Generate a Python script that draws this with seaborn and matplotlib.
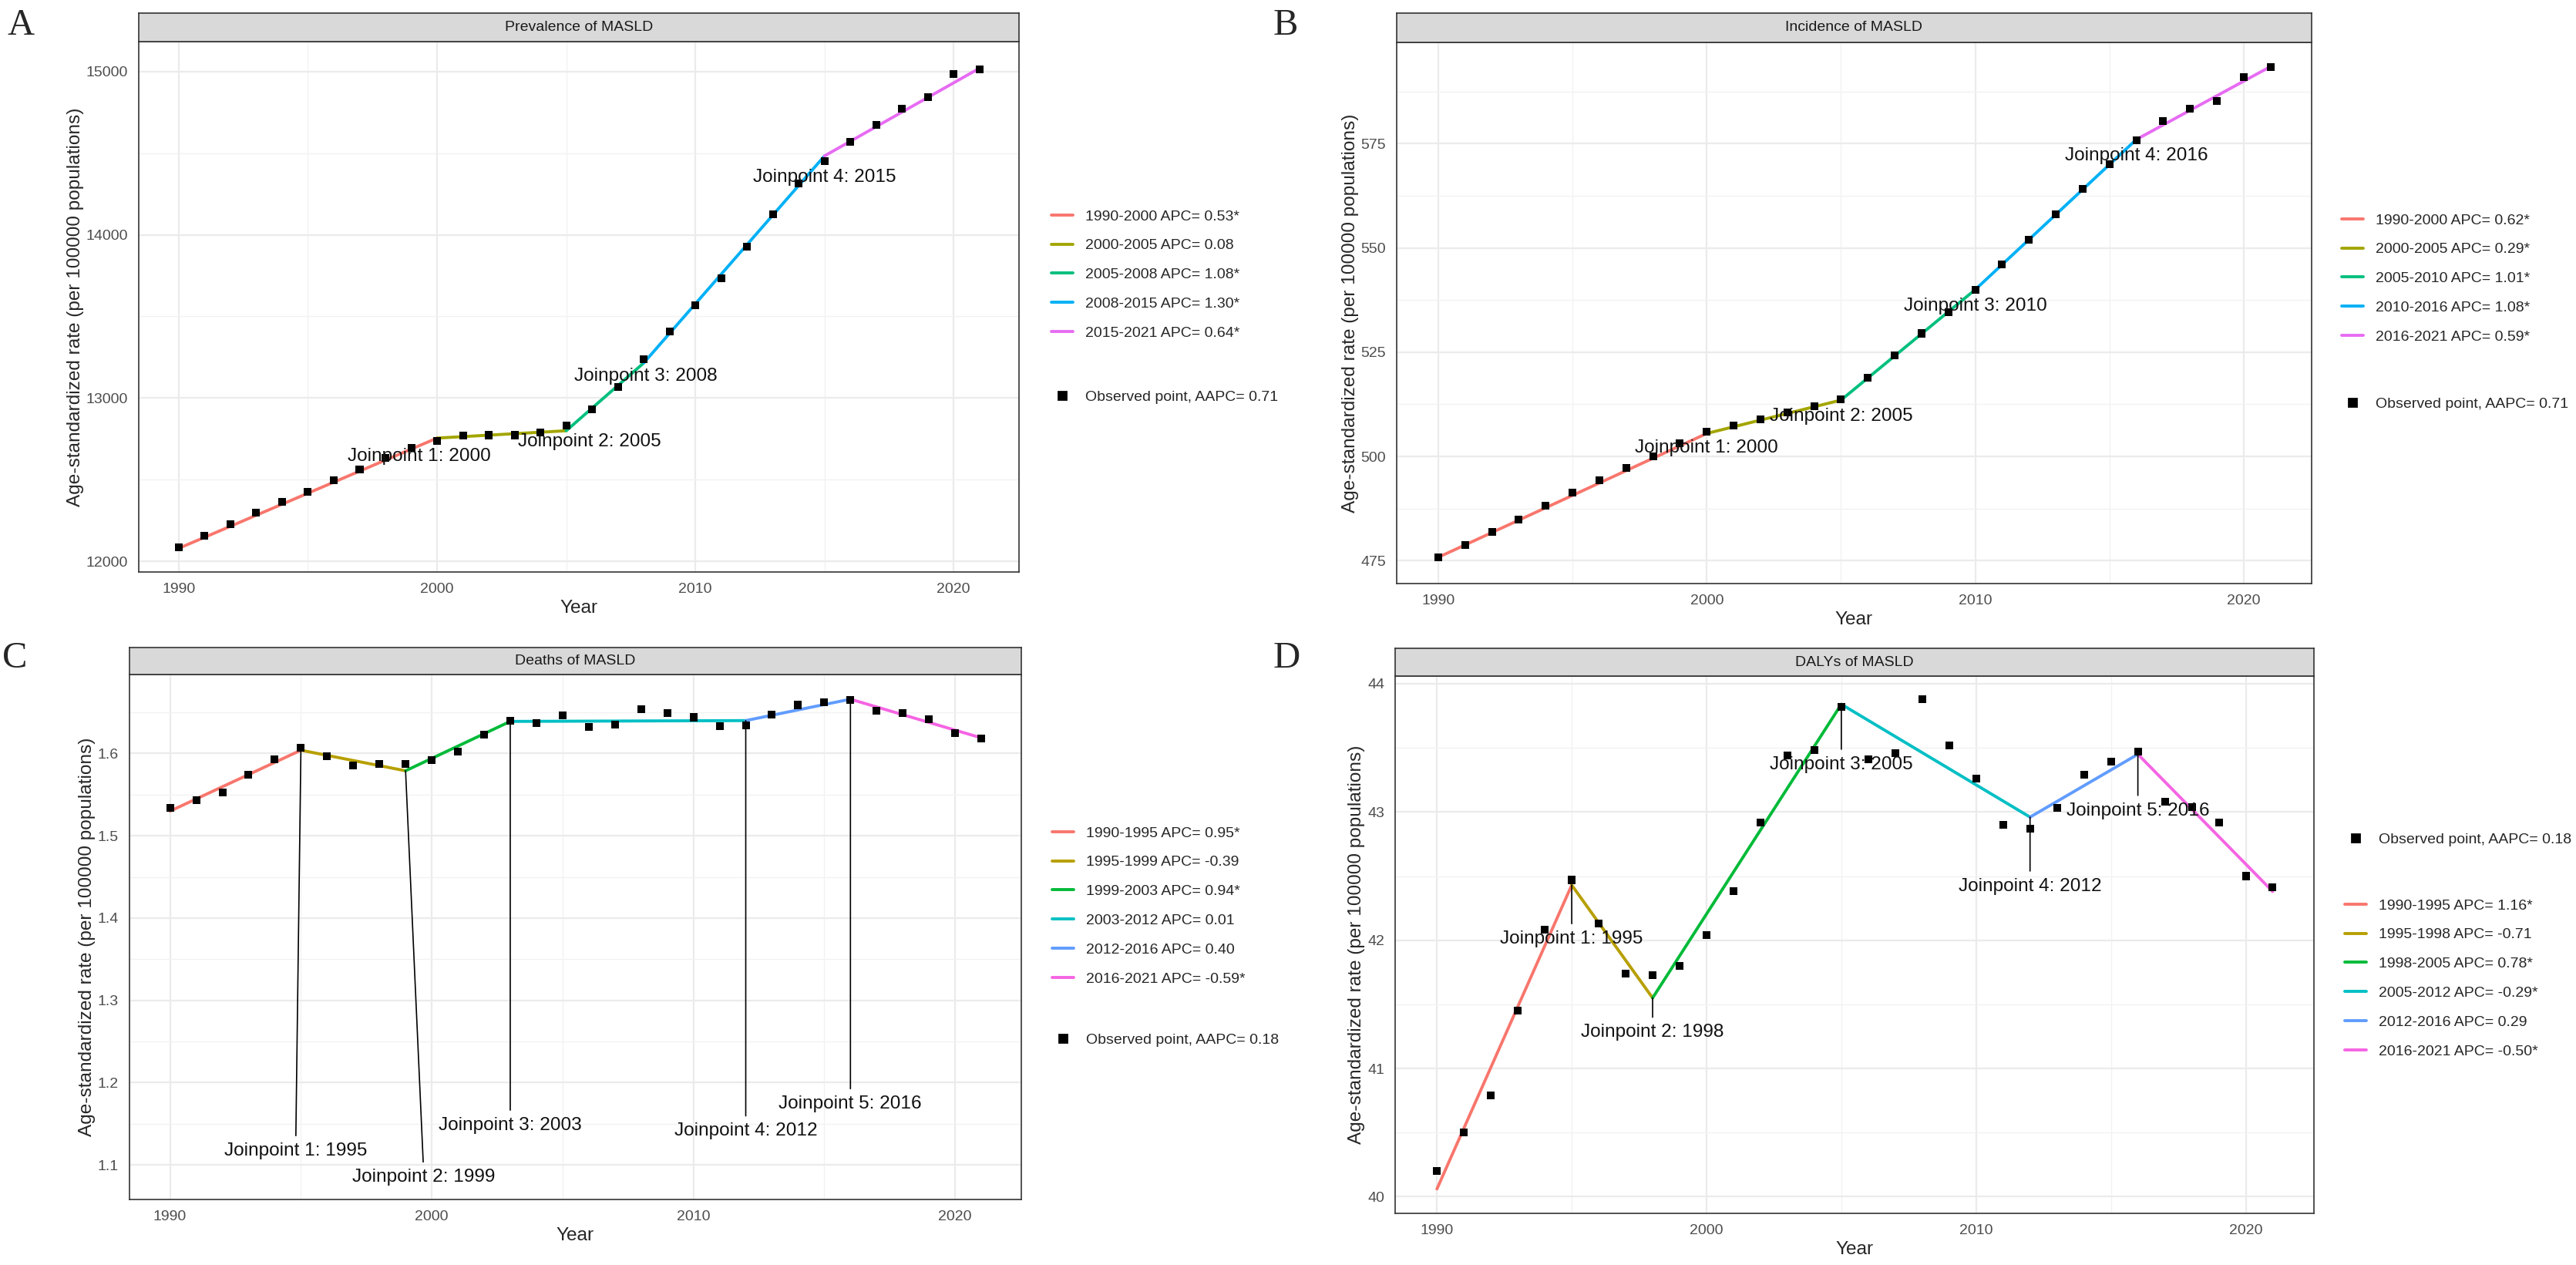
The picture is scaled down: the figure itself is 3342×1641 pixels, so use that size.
import pandas as pd
import seaborn as sns
import matplotlib.pyplot as plt
from matplotlib.lines import Line2D

sns.set_style('white')
plt.rcParams['font.family'] = ['Liberation Sans', 'DejaVu Sans']

years = list(range(1990, 2022))

# A: prevalence
prev_obs = [12085, 12157, 12227, 12297, 12365, 12425, 12495, 12563, 12635, 12696,
            12739, 12770, 12773, 12773, 12790, 12833, 12930, 13070, 13239, 13408,
            13568, 13732, 13928, 14126, 14314, 14452, 14568, 14671, 14771, 14843,
            14983, 15014]
prev_jp = [1990, 2000, 2005, 2008, 2015, 2021]
prev_fit = [12080, 12755, 12800, 13215, 14483, 15020]
prev_seg = ['1990-2000 APC= 0.53*', '2000-2005 APC= 0.08', '2005-2008 APC= 1.08*',
            '2008-2015 APC= 1.30*', '2015-2021 APC= 0.64*']
prev_aapc = 'Observed point, AAPC= 0.71'

# B: incidence
inc_obs = [475.7, 478.7, 481.8, 484.9, 488.1, 491.3, 494.2, 497.2, 500.0, 503.1,
           505.9, 507.4, 508.9, 510.6, 512.1, 513.7, 518.9, 524.2, 529.5, 534.5,
           540.0, 546.0, 551.9, 558.0, 564.1, 570.1, 575.9, 580.4, 583.4, 585.3,
           591.0, 593.3]
inc_jp = [1990, 2000, 2005, 2010, 2016, 2021]
inc_fit = [475.8, 505.5, 513.5, 540.0, 576.0, 593.5]
inc_seg = ['1990-2000 APC= 0.62*', '2000-2005 APC= 0.29*', '2005-2010 APC= 1.01*',
           '2010-2016 APC= 1.08*', '2016-2021 APC= 0.59*']
inc_aapc = 'Observed point, AAPC= 0.71'

# C: deaths
death_obs = [1.534, 1.543, 1.553, 1.574, 1.593, 1.607, 1.597, 1.585, 1.587, 1.587,
             1.592, 1.602, 1.623, 1.640, 1.637, 1.646, 1.632, 1.635, 1.654, 1.649,
             1.644, 1.633, 1.634, 1.647, 1.659, 1.662, 1.665, 1.652, 1.649, 1.642,
             1.625, 1.618]
death_jp = [1990, 1995, 1999, 2003, 2012, 2016, 2021]
death_fit = [1.530, 1.604, 1.579, 1.639, 1.640, 1.666, 1.619]
death_seg = ['1990-1995 APC= 0.95*', '1995-1999 APC= -0.39', '1999-2003 APC= 0.94*',
             '2003-2012 APC= 0.01', '2012-2016 APC= 0.40', '2016-2021 APC= -0.59*']
death_aapc = 'Observed point, AAPC= 0.18'

# D: DALYs
daly_obs = [40.20, 40.50, 40.79, 41.45, 42.08, 42.47, 42.13, 41.74, 41.73, 41.80,
            42.04, 42.38, 42.92, 43.44, 43.48, 43.82, 43.41, 43.46, 43.88, 43.52,
            43.26, 42.90, 42.87, 43.03, 43.29, 43.39, 43.47, 43.08, 43.04, 42.92,
            42.50, 42.41]
daly_jp = [1990, 1995, 1998, 2005, 2012, 2016, 2021]
daly_fit = [40.06, 42.43, 41.55, 43.84, 42.96, 43.45, 42.38]
daly_seg = ['1990-1995 APC= 1.16*', '1995-1998 APC= -0.71', '1998-2005 APC= 0.78*',
            '2005-2012 APC= -0.29*', '2012-2016 APC= 0.29', '2016-2021 APC= -0.50*']
daly_aapc = 'Observed point, AAPC= 0.18'

pal5 = ['#F8766D', '#A3A500', '#00BF7D', '#00B0F6', '#E76BF3']
pal6 = ['#F8766D', '#B79F00', '#00BA38', '#00BFC4', '#619CFF', '#F564E3']

W, H = 3342, 1641
fig = plt.figure(figsize=(W / 200, H / 200), dpi=200)


def fx(px):
    return px / W


def fy(py):
    return 1 - py / H


def panel(box, title, obs, jp, fit, seg, pal, aapc, ylim, yticks, yminor,
          lab_pos, lab_lines, leg_x, leg_rows, obs_row):
    left, right, s_top, s_bot, bottom = box
    ax = fig.add_axes([fx(left), fy(bottom), fx(right - left), (bottom - s_bot) / H])
    sax = fig.add_axes([fx(left), fy(s_bot), fx(right - left), (s_bot - s_top) / H])
    sax.set_facecolor('#D9D9D9')
    sax.set_xticks([])
    sax.set_yticks([])
    for sp in sax.spines.values():
        sp.set_color('#333333')
        sp.set_linewidth(0.6)
    sax.text(0.5, 0.5, title, ha='center', va='center', fontsize=7,
             color='#1A1A1A', transform=sax.transAxes)

    rows = []
    for i in range(len(jp) - 1):
        rows.append((jp[i], fit[i], seg[i]))
        rows.append((jp[i + 1], fit[i + 1], seg[i]))
    fit_df = pd.DataFrame(rows, columns=['Year', 'rate', 'segment'])
    obs_df = pd.DataFrame({'Year': years, 'rate': obs})

    sns.lineplot(data=fit_df, x='Year', y='rate', hue='segment', hue_order=seg,
                 palette=pal, linewidth=1.4, estimator=None, sort=False,
                 legend=False, ax=ax, zorder=2)
    sns.scatterplot(data=obs_df, x='Year', y='rate', marker='s', color='black',
                    s=13, edgecolor='none', legend=False, ax=ax, zorder=3)

    ax.set_xlim(1988.45, 2022.53)
    ax.set_ylim(*ylim)
    ax.set_xticks([1990, 2000, 2010, 2020])
    ax.set_xticks([1995, 2005, 2015], minor=True)
    ax.set_yticks(yticks)
    ax.set_yticks(yminor, minor=True)
    ax.grid(True, which='major', color='#EBEBEB', lw=0.8)
    ax.grid(True, which='minor', color='#F2F2F2', lw=0.5)
    ax.set_axisbelow(True)
    ax.tick_params(which='major', length=3, width=0.5, color='#333333',
                   labelsize=7, labelcolor='#4D4D4D', pad=2)
    ax.tick_params(which='minor', length=0)
    for sp in ax.spines.values():
        sp.set_color('#333333')
        sp.set_linewidth(0.6)
    ax.set_xlabel('Year', fontsize=8.8, labelpad=2)
    ax.set_ylabel('Age-standardized rate (per 100000 populations)', fontsize=8.8,
                  labelpad=1)

    for i, (x, y) in enumerate(lab_pos):
        txt = f'Joinpoint {i + 1}: {jp[i + 1]}'
        if lab_lines:
            ax.annotate(txt, xy=(jp[i + 1], fit[i + 1]), xytext=(x, y),
                        ha='center', va='center', fontsize=8.8, color='#111111',
                        arrowprops=dict(arrowstyle='-', color='black', lw=0.6,
                                        shrinkA=1, shrinkB=0), zorder=4)
        else:
            ax.text(x, y, txt, ha='center', va='center', fontsize=8.8,
                    color='#111111', zorder=4)

    hl = [Line2D([], [], color=c, lw=1.4) for c in pal]
    fig.legend(hl, seg, loc='upper left',
               bbox_to_anchor=(fx(leg_x), fy(leg_rows - 10)),
               frameon=False, fontsize=7, borderpad=0, borderaxespad=0,
               handlelength=1.45, handletextpad=0.8, labelspacing=1.04)
    hp = [Line2D([], [], color='black', marker='s', ls='', markersize=3.6)]
    fig.legend(hp, [aapc], loc='upper left',
               bbox_to_anchor=(fx(leg_x), fy(obs_row - 10)),
               frameon=False, fontsize=7, borderpad=0, borderaxespad=0,
               handlelength=1.45, handletextpad=0.8)
    return ax


panel((180, 1322, 17, 54, 742), 'Prevalence of MASLD', prev_obs, prev_jp, prev_fit,
      prev_seg, pal5, prev_aapc, (11935, 15183), [12000, 13000, 14000, 15000],
      [12500, 13500, 14500],
      [(1999.3, 12642), (2005.9, 12732), (2008.07, 13135), (2015.0, 14350)],
      False, 1364, 282, 516)

panel((1812, 2999, 17, 55, 757), 'Incidence of MASLD', inc_obs, inc_jp, inc_fit,
      inc_seg, pal5, inc_aapc, (469.5, 599.3), [475, 500, 525, 550, 575],
      [487.5, 512.5, 537.5, 562.5, 587.5],
      [(2000.0, 502.1), (2005.0, 509.7), (2010.0, 536.1), (2016.0, 572.2)],
      False, 3038, 287, 525)

panel((168, 1325, 840, 875, 1556), 'Deaths of MASLD', death_obs, death_jp, death_fit,
      death_seg, pal6, death_aapc, (1.058, 1.696), [1.1, 1.2, 1.3, 1.4, 1.5, 1.6],
      [1.15, 1.25, 1.35, 1.45, 1.55, 1.65],
      [(1994.8, 1.117), (1999.7, 1.085), (2003.0, 1.148), (2012.0, 1.141),
       (2016.0, 1.174)],
      True, 1365, 1082, 1350)

panel((1810, 3002, 841, 877, 1574), 'DALYs of MASLD', daly_obs, daly_jp, daly_fit,
      daly_seg, pal6, daly_aapc, (39.87, 44.06), [40, 41, 42, 43, 44],
      [40.5, 41.5, 42.5, 43.5],
      [(1995.0, 42.01), (1998.0, 41.28), (2005.0, 43.37), (2012.0, 42.42),
       (2016.0, 43.01)],
      True, 3042, 1176, 1090)

for letter, x, y in [('A', 10, 45), ('B', 1652, 45), ('C', 3, 866), ('D', 1652, 866)]:
    fig.text(fx(x), fy(y), letter, fontsize=17.5, family='Liberation Serif',
             ha='left', va='baseline')

fig.savefig('out.png', dpi=200)
